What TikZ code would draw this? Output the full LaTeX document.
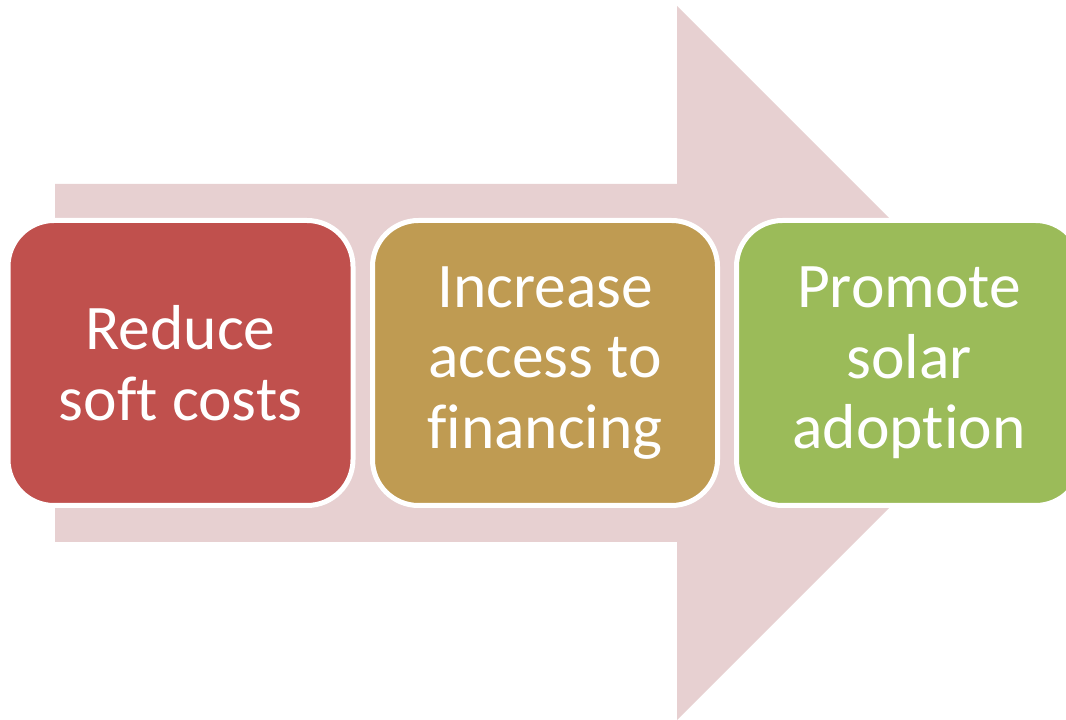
\documentclass[tikz,border=0pt]{standalone}
\usepackage{fontspec}
\setmainfont{Carlito}[Ligatures={NoCommon}]
\definecolor{arrowpink}{HTML}{E7D0D1}
\definecolor{boxred}{HTML}{C0504D}
\definecolor{boxgold}{HTML}{BF9B52}
\definecolor{boxgreen}{HTML}{9BBB59}
\begin{document}
\begin{tikzpicture}[x=1pt,y=1pt,
  stagebox/.style={draw=white, line width=5pt, rounded corners=46pt,
    minimum width=345pt, minimum height=285pt, inner sep=0pt,
    text=white, align=center, font=\fontsize{63.5}{70.5}\selectfont}]
\useasboundingbox (0,0) rectangle (1066,720);
\fill[arrowpink] (55,536) -- (677,536) -- (677,714) -- (1034,357) -- (677,0) -- (677,178) -- (55,178) -- cycle;
\node[stagebox, fill=boxred] (s1) at (180.5,357) {Reduce\\soft costs};
\node[stagebox, fill=boxgold] (s2) at (545,357) {Increase\\access to\\financing};
\node[stagebox, fill=boxgreen] (s3) at (909,357) {Promote\\solar\\adoption};
\end{tikzpicture}
\end{document}
